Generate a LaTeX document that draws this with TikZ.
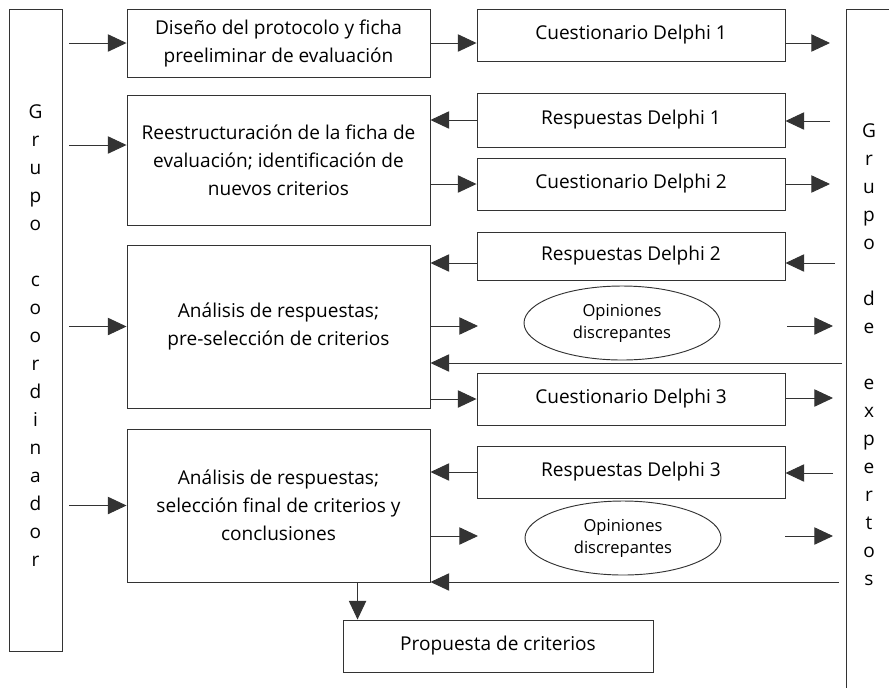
\documentclass[tikz,border=0pt]{standalone}
\usepackage{fontspec}
\setmainfont{Open Sans}
\usetikzlibrary{arrows.meta,shapes.geometric,calc}
\newdimen\pix
\pix=0.75pt
\begin{document}
\begin{tikzpicture}[x=0.75pt,y=-0.75pt,
    font=\fontsize{14.3}{21}\selectfont,
    caja/.style={draw=black!80,line width=0.7pt,inner sep=0pt,align=center,minimum width=303\pix},
    delphi/.style={caja,minimum width=308\pix,minimum height=52\pix},
    opinion/.style={ellipse,draw=black!80,line width=0.7pt,inner sep=0pt,align=center,
      minimum width=196\pix,minimum height=74\pix,font=\fontsize{12.4}{16.5}\selectfont},
    flecha/.style={draw=black!80,line width=0.7pt,-{Triangle[length=14pt,width=13pt]}}]
    \clip (0,0) rectangle (889,687);
    \node[caja,minimum width=53\pix,minimum height=642\pix,
        label={[align=center,yshift=-4pt]center:G\\r\\u\\p\\o\\[21pt]c\\o\\o\\r\\d\\i\\n\\a\\d\\o\\r}] (coord) at (35.5,330) {};
    \node[caja,minimum width=46\pix,minimum height=691\pix] (exp) at (869,354.5)
        {G\\r\\u\\p\\o\\[21pt]d\\e\\[21pt]e\\x\\p\\e\\r\\t\\o\\s};
    \node[caja,minimum height=68\pix] (d1) at (278.5,43) {Diseño del protocolo y ficha\\preeliminar de evaluación};
    \node[caja,minimum height=130\pix] (d2) at (278.5,160) {Reestructuración de la ficha de\\evaluación; identificación de\\nuevos criterios};
    \node[caja,minimum height=163\pix] (d3) at (278.5,326.5) {Análisis de respuestas;\\pre-selección de criterios};
    \node[caja,minimum height=153\pix] (d4) at (278.5,505.5) {Análisis de respuestas;\\selección final de criterios y\\conclusiones};
    \node[delphi] (c1) at (631,35) {Cuestionario Delphi 1};
    \node[delphi,minimum height=54\pix] (r1) at (631,120) {Respuestas Delphi 1};
    \node[delphi] (c2) at (631,184) {Cuestionario Delphi 2};
    \node[delphi,minimum height=48\pix] (r2) at (631,256) {Respuestas Delphi 2};
    \node[opinion] (o1) at (622,323) {Opiniones\\discrepantes};
    \node[delphi] (c3) at (631,399) {Cuestionario Delphi 3};
    \node[delphi] (r3) at (631,472) {Respuestas Delphi 3};
    \node[opinion] (o2) at (623,538) {Opiniones\\discrepantes};
    \node[caja,minimum width=310\pix,minimum height=52\pix] (prop) at (498,646) {Propuesta de criterios};
    \coordinate (y2) at (0,145);
    \coordinate (s1) at (830,43);
    \coordinate (s2) at (830,121);
    \coordinate (s3) at (830,184);
    \coordinate (s4) at (835,263);
    \coordinate (m5) at (478,326);
    \coordinate (t5) at (787,326);
    \coordinate (s5) at (833,326);
    \coordinate (l1) at (842,363);
    \coordinate (s6) at (833,398);
    \coordinate (s7) at (833,473);
    \coordinate (m8) at (478,536);
    \coordinate (t8) at (785,536);
    \coordinate (s8) at (833,536);
    \coordinate (l2) at (839,582);
    \coordinate (p1) at ($(prop.north west)+(15,0)$);
    \draw[flecha,shorten <=7\pix] (coord.east |- d1.west) -- (d1.west);
    \draw[flecha,shorten <=7\pix] (coord.east |- y2) -- (d2.west |- y2);
    \draw[flecha,shorten <=7\pix] (coord.east |- d3.west) -- (d3.west);
    \draw[flecha,shorten <=7\pix] (coord.east |- d4.west) -- (d4.west);
    \draw[flecha] (d1.east) -- (c1.west |- d1.east);
    \draw[flecha] (c1.east |- s1) -- (s1);
    \draw[flecha] (s2) -- (r1.east |- s2);
    \draw[flecha] (r1.west) -- (d2.east |- r1.west);
    \draw[flecha] (d2.east |- c2.west) -- (c2.west);
    \draw[flecha] (c2.east |- s3) -- (s3);
    \draw[flecha] (s4) -- (r2.east |- s4);
    \draw[flecha] (r2.west |- s4) -- (d3.east |- s4);
    \draw[flecha] (d3.east |- m5) -- (m5);
    \draw[flecha] (t5) -- (s5);
    \draw[flecha] (l1) -- (d3.east |- l1);
    \draw[flecha] (d3.east |- c3.west) -- (c3.west);
    \draw[flecha] (c3.east |- s6) -- (s6);
    \draw[flecha] (s7) -- (r3.east |- s7);
    \draw[flecha] (r3.west) -- (d4.east |- r3.west);
    \draw[flecha] (d4.east |- m8) -- (m8);
    \draw[flecha] (t8) -- (s8);
    \draw[flecha] (l2) -- (d4.east |- l2);
    \draw[flecha] (d4.south -| p1) -- (p1);
\end{tikzpicture}
\end{document}
